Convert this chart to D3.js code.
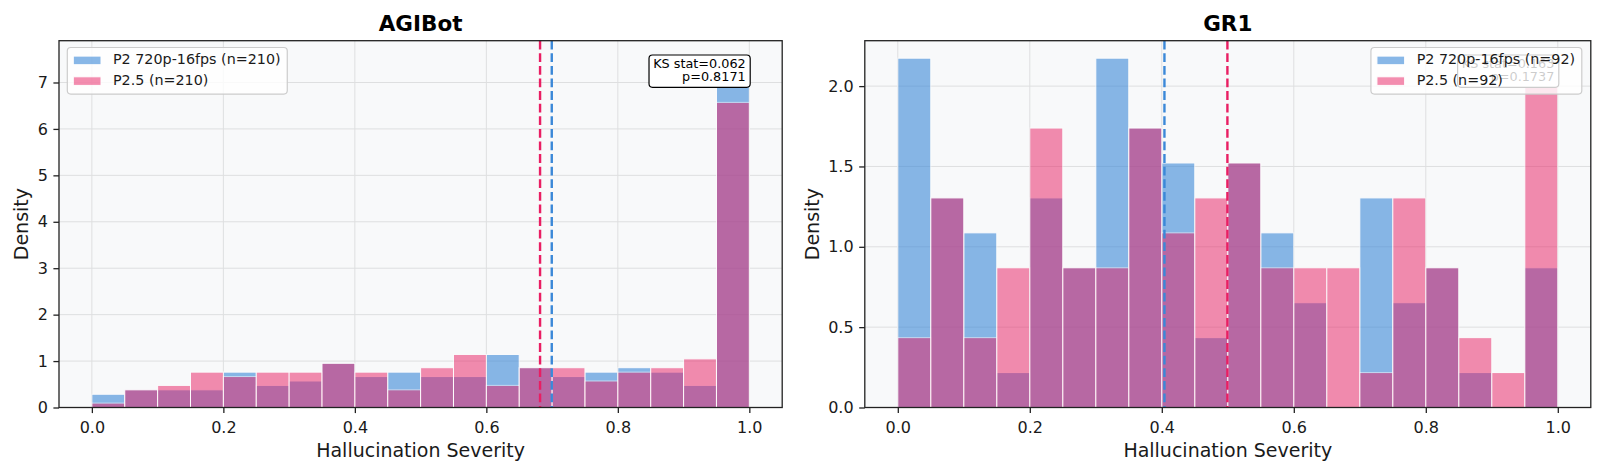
<!DOCTYPE html>
<html>
<head>
<meta charset="utf-8">
<script src="https://cdn.jsdelivr.net/npm/d3@7/dist/d3.min.js"></script>
<style>
  html, body { margin: 0; padding: 0; background: #ffffff; }
  svg { display: block; font-family: "DejaVu Sans", sans-serif; }
</style>
</head>
<body>
<svg id="grafico" width="1600" height="473"></svg>
<script>
/*═══════════════════════════════════════════════════════════════
  DATOS

  Histogramas de severidad de alucinación (20 bins de 0.05).
  Los valores son conteos por bin; la densidad se calcula
  como conteo / (n * ancho del bin).
═══════════════════════════════════════════════════════════════*/
const bordesBins = [0.00, 0.05, 0.10, 0.15, 0.20, 0.25, 0.30, 0.35, 0.40, 0.45, 0.50,
                    0.55, 0.60, 0.65, 0.70, 0.75, 0.80, 0.85, 0.90, 0.95, 1.00];

const nombresSeries = ["P2 720p-16fps", "P2.5"];
const titulos       = ["AGIBot", "GR1"];
const tamanos       = [210, 92];

// AGIBot
const conteosAgibotP2  = [3, 4, 4, 4, 8, 5, 6, 10, 7, 8, 7, 7, 12, 9, 7, 8, 9, 8, 5, 79];
const conteosAgibotP25 = [1, 4, 5, 8, 7, 8, 8, 10, 8, 4, 9, 12, 5, 9, 9, 6, 8, 9, 11, 69];
const mediasAgibot     = [0.6995, 0.6817];
const textoKsAgibot    = ["KS stat=0.062", "p=0.8171"];

// GR1
const conteosGr1P2  = [10, 6, 5, 1, 6, 4, 10, 8, 7, 2, 7, 5, 3, 0, 6, 3, 4, 1, 0, 4];
const conteosGr1P25 = [2, 6, 2, 4, 8, 4, 4, 8, 5, 6, 7, 4, 4, 4, 1, 6, 4, 2, 1, 10];
const mediasGr1     = [0.404, 0.4994];
const textoKsGr1    = ["KS stat=0.163", "p=0.1737"];

// ticks
const ticksX       = [0.0, 0.2, 0.4, 0.6, 0.8, 1.0];
const ticksYAgibot = [0, 1, 2, 3, 4, 5, 6, 7];
const ticksYGr1    = [0.0, 0.5, 1.0, 1.5, 2.0];

/*═══════════════════════════════════════════════════════════════
  ESTILO
═══════════════════════════════════════════════════════════════*/
const colores   = ["#3b88d8", "#e91e63"];
const opacidad  = [0.6, 0.5];
const fondoEje  = "#f8f9fa";
const colorGrid = "#dedfe0";
const colorTxt  = "#1a1a1a";

const svg = d3.select("#grafico");

const paneles = [
  { titulo: titulos[0], n: tamanos[0], series: [conteosAgibotP2, conteosAgibotP25],
    medias: mediasAgibot, ks: textoKsAgibot, ticksY: ticksYAgibot, fmtY: d3.format("d"),
    x0: 59, x1: 782.2, leyenda: "izq", yLabelX: 27.7 },
  { titulo: titulos[1], n: tamanos[1], series: [conteosGr1P2, conteosGr1P25],
    medias: mediasGr1, ks: textoKsGr1, ticksY: ticksYGr1, fmtY: d3.format(".1f"),
    x0: 864.8, x1: 1590.8, leyenda: "der", yLabelX: 818.5 }
];

const yTop = 40.7, yBottom = 407.5;

paneles.forEach(dibujarPanel);

function dibujarPanel(p) {
  const anchoBin = bordesBins[1] - bordesBins[0];
  const densidades = p.series.map(s => s.map(c => c / (p.n * anchoBin)));
  const maxDens = d3.max(densidades.flat());

  const x = d3.scaleLinear().domain([-0.05, 1.05]).range([p.x0, p.x1]);
  const y = d3.scaleLinear().domain([0, maxDens * 1.05]).range([yBottom, yTop]);

  const g = svg.append("g");

  /* fondo del eje */
  g.append("rect")
    .attr("x", p.x0).attr("y", yTop)
    .attr("width", p.x1 - p.x0).attr("height", yBottom - yTop)
    .attr("fill", fondoEje);

  /* grilla */
  g.append("g").selectAll("line").data(ticksX).join("line")
    .attr("x1", d => x(d)).attr("x2", d => x(d))
    .attr("y1", yTop).attr("y2", yBottom)
    .attr("stroke", colorGrid).attr("stroke-width", 1);
  g.append("g").selectAll("line").data(p.ticksY).join("line")
    .attr("x1", p.x0).attr("x2", p.x1)
    .attr("y1", d => y(d)).attr("y2", d => y(d))
    .attr("stroke", colorGrid).attr("stroke-width", 1);

  /* barras: primero P2, luego P2.5 encima */
  densidades.forEach((dens, k) => {
    g.append("g").selectAll("rect")
      .data(dens.map((v, i) => ({ v, a: bordesBins[i], b: bordesBins[i + 1] })).filter(d => d.v > 0))
      .join("rect")
      .attr("x", d => x(d.a))
      .attr("width", d => x(d.b) - x(d.a))
      .attr("y", d => y(d.v))
      .attr("height", d => y(0) - y(d.v))
      .attr("fill", colores[k])
      .attr("stroke", "#ffffff")
      .attr("stroke-width", 1)
      .attr("opacity", opacidad[k]);
  });

  /* medias (líneas verticales discontinuas) */
  g.append("g").selectAll("line").data(p.medias).join("line")
    .attr("x1", d => x(d)).attr("x2", d => x(d))
    .attr("y1", yTop).attr("y2", yBottom)
    .attr("stroke", (d, i) => colores[i])
    .attr("stroke-width", 2.4)
    .attr("stroke-dasharray", "8.8,3.8");

  /* caja KS (esquina superior derecha) */
  const ks = g.append("g");
  const ksTextos = ks.selectAll("text").data(p.ks).join("text")
    .attr("x", p.x1 - 36.5)
    .attr("y", (d, i) => yTop + 27.6 + i * 12.8)
    .attr("text-anchor", "end")
    .attr("font-size", "12.8px")
    .attr("fill", "#000")
    .text(d => d);
  const anchoKs = d3.max(ksTextos.nodes(), n => n.getComputedTextLength());
  ks.insert("rect", "text")
    .attr("x", p.x1 - 36.5 - anchoKs - 4.2)
    .attr("y", yTop + 14.3)
    .attr("width", anchoKs + 8.7)
    .attr("height", 32.3)
    .attr("rx", 3.5)
    .attr("fill", "#ffffff")
    .attr("stroke", "#000")
    .attr("stroke-width", 1.2);

  /* leyenda */
  const ley = g.append("g");
  const fondoLey = ley.append("rect");
  const textosLey = ley.selectAll("text").data(nombresSeries).join("text")
    .attr("y", (d, i) => yTop + 23.6 + i * 20.7)
    .attr("font-size", "14.3px")
    .attr("fill", colorTxt)
    .text(d => `${d} (n=${p.n})`);
  const anchoTxt = d3.max(textosLey.nodes(), n => n.getComputedTextLength());
  const anchoLey = 45.7 + anchoTxt + 6.7;
  const leyX = p.leyenda === "izq" ? p.x0 + 8.3 : p.x1 - 9 - anchoLey;
  fondoLey
    .attr("x", leyX).attr("y", yTop + 6.8)
    .attr("width", anchoLey).attr("height", 46.6)
    .attr("rx", 3.5)
    .attr("fill", "#ffffff").attr("fill-opacity", 0.8)
    .attr("stroke", "#cccccc").attr("stroke-width", 1.2);
  textosLey.attr("x", leyX + 45.7);
  ley.selectAll("rect.parche").data(nombresSeries).join("rect")
    .attr("class", "parche")
    .attr("x", leyX + 6)
    .attr("y", (d, i) => yTop + 15.4 + i * 20.7)
    .attr("width", 27.7).attr("height", 8.6)
    .attr("fill", (d, i) => colores[i])
    .attr("stroke", "#ffffff").attr("stroke-width", 1)
    .attr("opacity", (d, i) => opacidad[i]);

  /* marco */
  g.append("rect")
    .attr("x", p.x0).attr("y", yTop)
    .attr("width", p.x1 - p.x0).attr("height", yBottom - yTop)
    .attr("fill", "none").attr("stroke", "#222").attr("stroke-width", 1.3);

  /* ejes */
  const ejeX = g.append("g")
    .attr("transform", `translate(0,${yBottom})`)
    .call(d3.axisBottom(x).tickValues(ticksX).tickFormat(d3.format(".1f"))
      .tickSize(5.6).tickPadding(5.6));
  const ejeY = g.append("g")
    .attr("transform", `translate(${p.x0},0)`)
    .call(d3.axisLeft(y).tickValues(p.ticksY).tickFormat(p.fmtY)
      .tickSize(5.6).tickPadding(5.6));
  [ejeX, ejeY].forEach(e => {
    e.select(".domain").remove();
    e.selectAll("line").attr("stroke", "#222").attr("stroke-width", 1.3);
    e.selectAll("text").attr("font-size", "16px").attr("fill", colorTxt)
      .attr("font-family", "'DejaVu Sans', sans-serif");
  });
  ejeX.selectAll("text").attr("dy", "0.9em");

  /* títulos y etiquetas */
  g.append("text")
    .attr("x", (p.x0 + p.x1) / 2).attr("y", 31)
    .attr("text-anchor", "middle")
    .attr("font-size", "21.5px").attr("font-weight", "bold")
    .attr("fill", "#000")
    .text(p.titulo);

  g.append("text")
    .attr("x", (p.x0 + p.x1) / 2).attr("y", 457)
    .attr("text-anchor", "middle")
    .attr("font-size", "19px")
    .attr("fill", colorTxt)
    .text("Hallucination Severity");

  g.append("text")
    .attr("transform", `translate(${p.yLabelX},${(yTop + yBottom) / 2}) rotate(-90)`)
    .attr("text-anchor", "middle")
    .attr("font-size", "19px")
    .attr("fill", colorTxt)
    .text("Density");
}
</script>
</body>
</html>
